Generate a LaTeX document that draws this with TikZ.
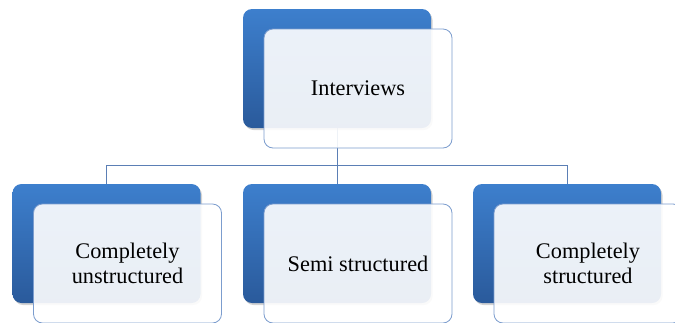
\documentclass[tikz,border=0pt]{standalone}
\usepackage{fontspec}
\setmainfont{Liberation Serif}
\usepackage{tikz}
\usetikzlibrary{shadows,backgrounds}

\definecolor{backtop}{HTML}{3D7FCD}
\definecolor{backbot}{HTML}{2A5A9B}
\definecolor{frontline}{HTML}{7C9DCE}
\definecolor{linkline}{HTML}{5B7FB5}

\begin{document}
\begin{tikzpicture}[x=1pt, y=-1pt,
			back/.style={rectangle, rounded corners=9pt, minimum width=188pt,
					minimum height=119pt, top color=backtop, bottom color=backbot,
					draw=none, drop shadow={shadow xshift=1.5pt, shadow yshift=-2pt, opacity=0.35}},
			front/.style={rectangle, rounded corners=9pt, minimum width=188pt,
					minimum height=119pt, draw=frontline, line width=0.8pt,
					fill=white, fill opacity=0.9, text opacity=1, align=center,
					font=\fontsize{22.3}{25}\selectfont, shift={(21pt,-20pt)}},
			link/.style={draw=linkline, line width=0.8pt}
		]
		\useasboundingbox (0,0) rectangle (675,322);
		\clip (0,0) rectangle (675,322);

		% top level
		\node[back] (intvback) at (337,68.5) {};
		\node[front] (intv) at (intvback) {Interviews};

		% second level
		\node[back] (unstrback) at (106.5,243.5) {};
		\node[front] (unstr) at (unstrback) {Completely\\unstructured};

		\node[back] (semiback) at (337,243.5) {};
		\node[front] (semi) at (semiback) {Semi structured};

		\node[back] (strback) at (567,243.5) {};
		\node[front] (str) at (strback) {Completely\\structured};

		% Connections
		\begin{scope}[on background layer]
			\coordinate (hub) at (337,165);
			\draw[link] (intvback.south) -- (hub);
			\draw[link] (hub) -| (unstrback.north);
			\draw[link] (hub) -- (semiback.north);
			\draw[link] (hub) -| (strback.north);
		\end{scope}
	\end{tikzpicture}
\end{document}
